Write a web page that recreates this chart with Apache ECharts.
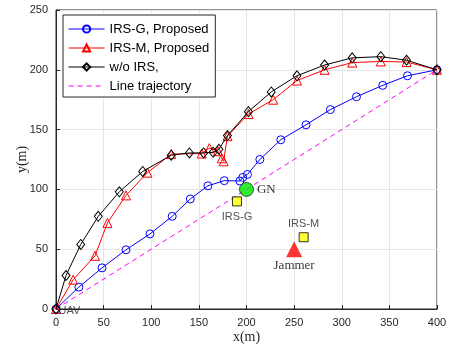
<!DOCTYPE html>
<html>
<head>
<meta charset="utf-8">
<script src="https://cdn.jsdelivr.net/npm/echarts@6/dist/echarts.min.js"></script>
<style>
html,body{margin:0;padding:0;background:#fff;}
#main{width:454px;height:347px;}
</style>
</head>
<body>
<div id="main"></div>
<script>
// 轨迹数据
var irsG = [[0,0],[24,18.3],[48.3,34.4],[73.5,49.5],[98.7,62.8],[122,77.5],[141,92],[159.5,103],[176.7,107.3],[193,107],[196,110],[201,112.5],[214,125],[236,141.5],[262.5,154],[288,166.7],[315.5,177.5],[343,187],[369,195],[400,200]];
var irsM = [[0,0],[18,24.5],[41,44.5],[54,72],[73.5,95],[96,114],[121,129.5],[153,130],[161,134.5],[170,132],[174,126],[176,123.5],[180,144.5],[202,163],[228,175],[253,191],[282,200],[311,206],[341,207],[368,206.5],[400,200]];
var noIrs = [[0,0],[10.5,28],[26,54],[44.4,77.5],[66.5,98],[91,115],[121,128.6],[140,130.5],[155,130.5],[165,131],[171,133.5],[180,145],[202,165],[226,181.5],[253,195],[282,204],[311,210],[341,211],[368,208],[400,200]];
var lineTraj = [[0,0],[400,200]];
// 节点位置
var uavPos = [0,0];
var gnPos = [200,100];
var irsGPos = [190,90];
var irsMPos = [260,60];
var jammerPos = [250,50];
var xTicks = [0,400,50];
var yTicks = [0,250,50];

var axisTxt = {color:'#262626',fontFamily:'Liberation Sans, Arial',fontSize:11};
var chart = echarts.init(document.getElementById('main'));
var option = {
	animation:false,
	grid:{left:56,right:17,top:10,bottom:38,show:true,borderColor:'#262626',borderWidth:1,outerBoundsMode:'none',containLabel:false},
	legend:{
		orient:'vertical',left:63,top:15,
		data:[
			{name:'IRS-G, Proposed',lineStyle:{width:1}},
			{name:'IRS-M, Proposed',lineStyle:{width:1}},
			{name:'w/o IRS,',lineStyle:{width:1}},
			{name:'Line trajectory',lineStyle:{width:1.2},itemStyle:{opacity:0}}
		],
		backgroundColor:'#fff',borderColor:'#262626',borderWidth:1,
		padding:[7,6,4,5],itemWidth:36,itemHeight:9,itemGap:5,
		textStyle:{color:'#000',fontFamily:'Liberation Sans, Arial',fontSize:13,lineHeight:14}
	},
	xAxis:{
		type:'value',min:xTicks[0],max:xTicks[1],interval:xTicks[2],
		name:'x(m)',nameLocation:'middle',nameGap:21,nameMoveOverlap:false,
		nameTextStyle:{fontFamily:'Liberation Serif, Times New Roman',fontSize:14,color:'#262626'},
		axisLine:{lineStyle:{color:'#262626'}},
		axisTick:{inside:true,length:4,lineStyle:{color:'#262626'}},
		axisLabel:axisTxt,
		splitLine:{lineStyle:{color:'#e6e6e6'}}
	},
	yAxis:{
		type:'value',min:yTicks[0],max:yTicks[1],interval:yTicks[2],
		name:'y(m)',nameLocation:'middle',nameGap:27,nameMoveOverlap:false,
		nameTextStyle:{fontFamily:'Liberation Serif, Times New Roman',fontSize:14,color:'#262626'},
		axisLine:{show:true,lineStyle:{color:'#262626'}},
		axisTick:{show:true,inside:true,length:4,lineStyle:{color:'#262626'}},
		axisLabel:axisTxt,
		splitLine:{lineStyle:{color:'#e6e6e6'}}
	},
	series:[
		{
			name:'Line trajectory',type:'line',data:lineTraj,symbol:'none',
			lineStyle:{color:'#ff00ff',width:1,type:[5,4]},itemStyle:{color:'#ff00ff'},z:1
		},
		{
			name:'IRS-G, Proposed',type:'line',data:irsG,symbol:'circle',symbolSize:8,clip:false,
			lineStyle:{color:'#0000ff',width:1},
			itemStyle:{color:'rgba(255,255,255,0)',borderColor:'#0000ff',borderWidth:1},z:2
		},
		{
			name:'IRS-M, Proposed',type:'line',data:irsM,symbol:'triangle',symbolSize:9,clip:false,
			lineStyle:{color:'#ff0000',width:1},
			itemStyle:{color:'rgba(255,255,255,0)',borderColor:'#ff0000',borderWidth:1},z:3
		},
		{
			name:'w/o IRS,',type:'line',data:noIrs,symbol:'diamond',symbolSize:[8,10],clip:false,
			lineStyle:{color:'#000',width:1},
			itemStyle:{color:'rgba(255,255,255,0)',borderColor:'#000',borderWidth:1},z:4
		},
		{
			type:'scatter',clip:false,z:5,
			data:[
				{value:gnPos,symbol:'circle',symbolSize:14,itemStyle:{color:'#00e600',borderColor:'#000',borderWidth:0.8},
					label:{show:true,formatter:'GN',position:'right',distance:3,fontFamily:'Liberation Serif',fontSize:13,color:'#000'}},
				{value:irsGPos,symbol:'rect',symbolSize:9,itemStyle:{color:'#ffff00',borderColor:'#000',borderWidth:1},
					label:{show:true,formatter:'IRS-G',position:'bottom',distance:5,fontFamily:'Liberation Sans',fontSize:11,color:'#262626'}},
				{value:irsMPos,symbol:'rect',symbolSize:9,itemStyle:{color:'#ffff00',borderColor:'#000',borderWidth:1},
					label:{show:true,formatter:'IRS-M',position:'top',distance:3,fontFamily:'Liberation Sans',fontSize:11,color:'#262626'}},
				{value:jammerPos,symbol:'triangle',symbolSize:16,itemStyle:{color:'#ff0000'},
					label:{show:true,formatter:'Jammer',position:'bottom',distance:2,fontFamily:'Liberation Serif',fontSize:13,color:'#000'}},
				{value:uavPos,symbol:'circle',symbolSize:1,itemStyle:{color:'rgba(0,0,0,0)'},
					label:{show:true,formatter:'UAV',position:'right',distance:0,offset:[2,2],fontFamily:'Liberation Sans',fontSize:11,color:'#262626'}}
			]
		}
	]
};
chart.setOption(option);
</script>
</body>
</html>
